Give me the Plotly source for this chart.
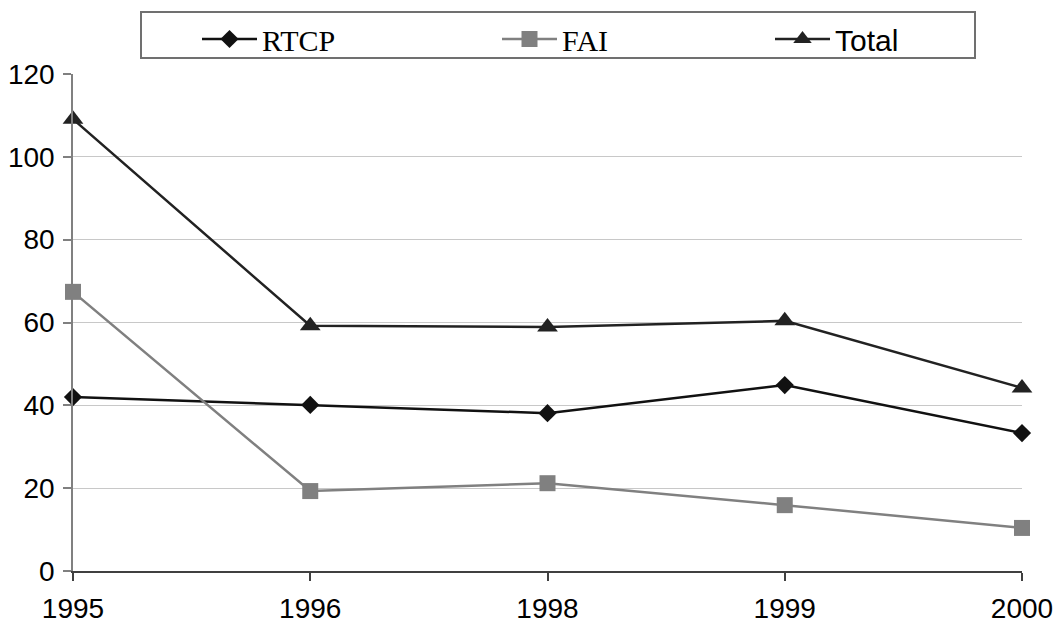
import plotly.graph_objects as go

years = ["1995", "1996", "1998", "1999", "2000"]
rtcp = [42.0, 40.1, 38.1, 44.9, 33.3]
fai = [67.4, 19.3, 21.2, 15.9, 10.4]
total = [109.1, 59.2, 58.9, 60.4, 44.2]

W, H = 1061, 624
ML, MR, MT, MB = 73, 39, 74, 53
PW, PH = W - ML - MR, H - MT - MB


def px_x(p):
    return (p - ML) / PW


def px_y(p):
    return (H - MB - p) / PH


SERIF = "Liberation Serif, Times New Roman, serif"
SANS = "Liberation Sans, Arial, sans-serif"

fig = go.Figure()
fig.add_trace(go.Scatter(
    x=years, y=rtcp, mode="lines+markers",
    name=f"<span style='font-family:{SERIF}'>RTCP</span>",
    line=dict(color="#111111", width=2.5),
    marker=dict(symbol="diamond", size=14, color="#111111"),
    cliponaxis=False, legend="legend", showlegend=True,
))
fig.add_trace(go.Scatter(
    x=years, y=fai, mode="lines+markers",
    name=f"<span style='font-family:{SERIF}'>FAI</span>",
    line=dict(color="#808080", width=2.5),
    marker=dict(symbol="square", size=16, color="#808080"),
    cliponaxis=False, legend="legend2", showlegend=True,
))
fig.add_trace(go.Scatter(
    x=years, y=total, mode="lines+markers",
    name="Total",
    line=dict(color="#222222", width=2.5),
    marker=dict(symbol="triangle-up", size=18, color="#222222"),
    cliponaxis=False, legend="legend3", showlegend=True,
))

leg_common = dict(orientation="h", yanchor="middle", y=px_y(39), xanchor="left",
                  font=dict(size=30, color="#000000"), bgcolor="rgba(0,0,0,0)",
                  itemwidth=55, borderwidth=0)

fig.update_layout(
    width=W, height=H,
    showlegend=True,
    margin=dict(l=ML, r=MR, t=MT, b=MB, pad=0, autoexpand=False),
    paper_bgcolor="white", plot_bgcolor="white",
    font=dict(family=SANS, size=28, color="#000000"),
    legend=dict(x=px_x(197), **leg_common),
    legend2=dict(x=px_x(497), **leg_common),
    legend3=dict(x=px_x(770), **leg_common),
    xaxis=dict(
        type="category", range=[0, 4], showgrid=False, automargin=False,
        showline=True, linecolor="#404040", linewidth=1.5,
        ticks="outside", ticklen=8, tickcolor="#404040", tickwidth=1.5,
        tickfont=dict(size=28), ticklabelstandoff=4, fixedrange=True,
    ),
    yaxis=dict(
        range=[0, 120], dtick=20, tick0=0, automargin=False,
        showgrid=True, gridcolor="#c8c8c8", gridwidth=1,
        zeroline=False,
        showline=True, linecolor="#808080", linewidth=1.5,
        ticks="outside", ticklen=8, tickcolor="#808080", tickwidth=1.5,
        tickfont=dict(size=28), ticklabelstandoff=3, fixedrange=True,
    ),
    shapes=[dict(
        type="rect", xref="paper", yref="paper",
        x0=px_x(141), x1=px_x(975), y0=px_y(58), y1=px_y(12),
        line=dict(color="#707070", width=2), fillcolor="rgba(0,0,0,0)",
    )],
)

fig.write_html("out.html")
